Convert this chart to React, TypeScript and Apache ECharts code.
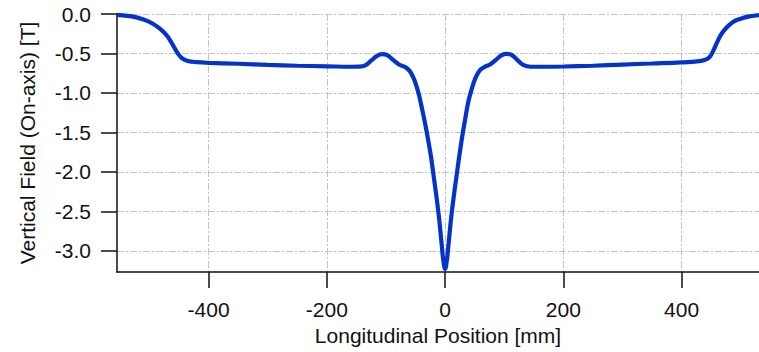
import React, { useEffect, useRef } from "react";
import * as echarts from "echarts";

const positions = [
  -555, -530, -510, -495, -480, -470, -460, -452, -445, -435, -420, -400, -350, -300, -250, -200, -160, -145,
  -135, -125, -115, -107, -98, -88, -78, -68, -60, -54, -49, -44, -39, -34, -29, -24, -19, -14, -10, -6, -3, 0,
  3, 6, 10, 14, 19, 24, 29, 34, 39, 45, 52, 59, 67, 76, 86, 96, 104, 113, 122, 132, 145, 160, 200, 250, 300,
  350, 400, 430, 440, 447, 454, 460, 466, 475, 487, 500, 515, 531,
];
const field = [
  -0.01, -0.03, -0.07, -0.12, -0.2, -0.28, -0.4, -0.5, -0.56, -0.595, -0.61, -0.618, -0.63, -0.645, -0.655,
  -0.662, -0.668, -0.666, -0.65, -0.59, -0.53, -0.508, -0.52, -0.58, -0.64, -0.67, -0.72, -0.8, -0.9, -1.03,
  -1.2, -1.38, -1.58, -1.8, -2.07, -2.35, -2.6, -2.9, -3.12, -3.23,
  -3.12, -2.9, -2.6, -2.35, -2.07, -1.8, -1.55, -1.33, -1.12, -0.95, -0.8, -0.71, -0.67, -0.64, -0.58, -0.52,
  -0.505, -0.52, -0.58, -0.645, -0.668, -0.668, -0.665, -0.655, -0.64, -0.627, -0.613, -0.597, -0.58, -0.55,
  -0.46, -0.36, -0.27, -0.18, -0.1, -0.06, -0.03, -0.013,
];
const xTicks = [-400, -200, 0, 200, 400];
const yTicks = [-3.0, -2.5, -2.0, -1.5, -1.0, -0.5, 0.0];

const FONT = "Liberation Sans, Arial, sans-serif";

export default function App() {
  const ref = useRef<HTMLDivElement>(null);
  useEffect(() => {
    document.body.style.margin = "0";
    if (!ref.current) return;
    const chart = echarts.init(ref.current, undefined, { renderer: "svg" });
    const gridLine = { color: "#c4c4c4", width: 1, type: [7, 2, 2, 2] as number[] };
    chart.setOption({
      animation: false,
      backgroundColor: "#ffffff",
      grid: { left: 117, top: 14, right: 0, bottom: 80, containLabel: false },
      xAxis: {
        type: "value",
        min: -555,
        max: 531,
        name: "Longitudinal Position [mm]",
        nameLocation: "middle",
        nameGap: 50,
        nameTextStyle: { fontFamily: FONT, fontSize: 21, color: "#111" },
        axisLine: { show: true, onZero: false, lineStyle: { color: "#111", width: 1.5 } },
        axisTick: { show: true, length: 16, customValues: xTicks, lineStyle: { color: "#111", width: 1.5 } },
        axisLabel: {
          customValues: xTicks,
          margin: 27,
          fontFamily: FONT,
          fontSize: 21,
          color: "#111",
        },
        splitLine: { show: true, lineStyle: gridLine },
      },
      yAxis: {
        type: "value",
        min: -3.267,
        max: 0,
        name: "Vertical Field (On-axis) [T]",
        nameLocation: "middle",
        nameGap: 79,
        nameTextStyle: { fontFamily: FONT, fontSize: 21, color: "#111" },
        axisLine: { show: true, onZero: false, lineStyle: { color: "#111", width: 1.5 } },
        axisTick: { show: true, length: 16, customValues: yTicks, lineStyle: { color: "#111", width: 1.5 } },
        axisLabel: {
          customValues: yTicks,
          margin: 26,
          fontFamily: FONT,
          fontSize: 21,
          color: "#111",
          formatter: (v: number) => v.toFixed(1),
        },
        splitLine: { show: true, lineStyle: gridLine },
      },
      series: [
        {
          type: "line",
          data: positions.map((p, i) => [p, field[i]]),
          showSymbol: false,
          smooth: 0.4,
          lineStyle: { color: "#0433cc", width: 4.2 },
          itemStyle: { color: "#0433cc" },
        },
      ],
    });
    return () => chart.dispose();
  }, []);
  return <div ref={ref} style={{ width: 759, height: 352 }} />;
}
